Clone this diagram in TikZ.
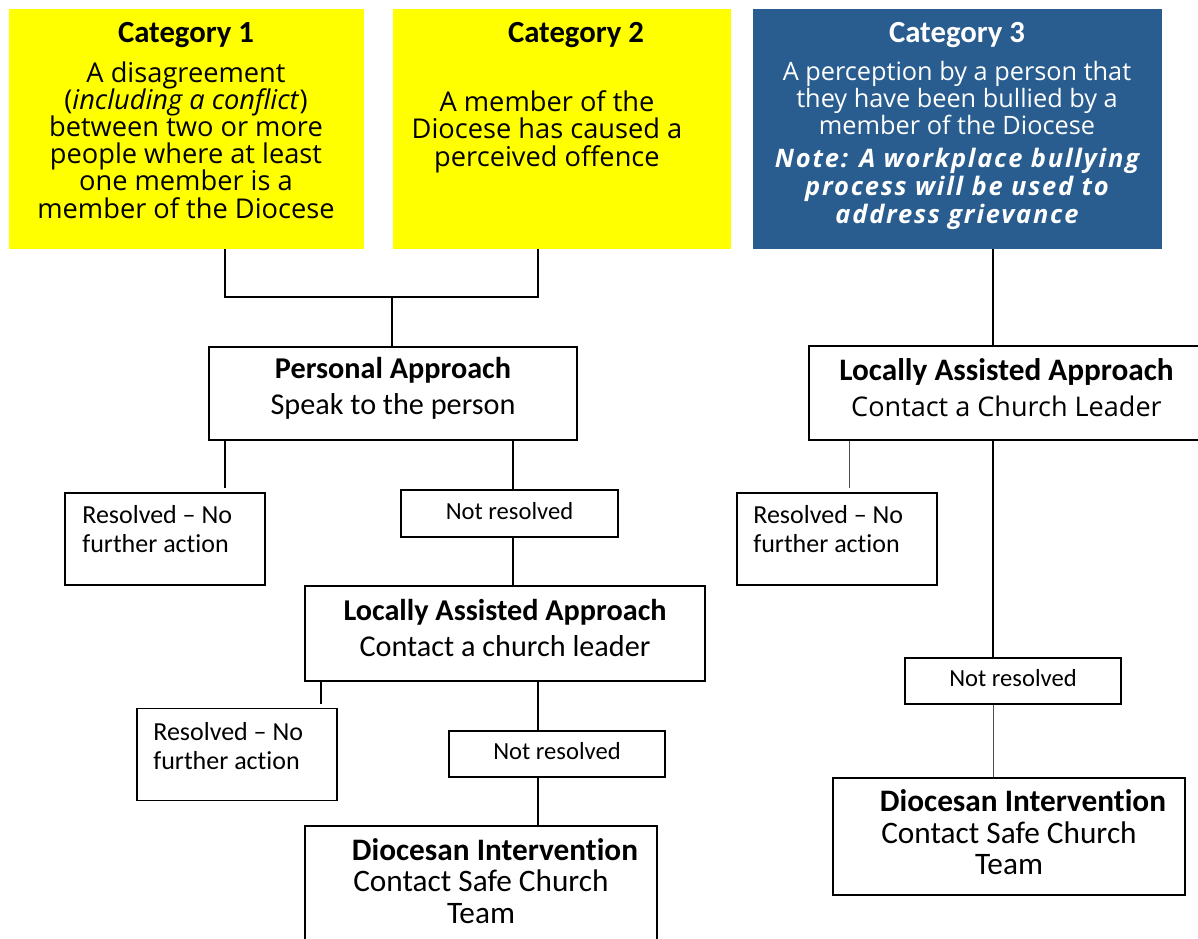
\documentclass[tikz,border=0pt]{standalone}
\usepackage{fontspec}
\setmainfont{Carlito}[Ligatures=NoCommon]
\newfontfamily\widefont{Open Sans}
\newfontfamily\notefont[LetterSpace=7]{Open Sans}
\definecolor{CatYellow}{RGB}{255,255,0}
\definecolor{CatBlue}{RGB}{41,93,143}
\definecolor{LineGray}{RGB}{80,80,80}
\newcommand\catlines{\lineskiplimit=-20pt\relax}

\tikzset{
  catbox/.style={fill=#1, inner sep=0pt, minimum height=4.8cm},
  stepbox/.style={draw=black, line width=0.9pt, fill=white, inner sep=0pt, align=center, font=\fontsize{17.2}{20.4}\selectfont},
  notebox/.style={draw=black, line width=0.9pt, fill=white, inner sep=0pt, minimum width=4.33cm, minimum height=0.93cm, text depth=0.3em, font=\fontsize{14}{16}\selectfont},
  endbox/.style={draw=black, line width=0.9pt, inner sep=0pt, minimum width=4cm, minimum height=1.84cm},
  cathead/.style={inner sep=0pt, anchor=base, font=\fontsize{17.5}{20}\selectfont\bfseries},
  cattext/.style={inner sep=0pt, anchor=base, align=center, font=\widefont\fontsize{15.5}{15.4}\selectfont\catlines},
  endtext/.style={inner sep=0pt, anchor=base west, align=left, font=\fontsize{14.8}{16.4}\selectfont},
  link/.style={draw=black, line width=0.8pt},
  thinlink/.style={draw=LineGray, line width=0.5pt}
}

\begin{document}
\begin{tikzpicture}[x=0.02cm,y=-0.02cm]
\clip (0,0) rectangle (1198,938);
\fill[white] (0,0) rectangle (1198,938);

% the three categories
\node[catbox=CatYellow, minimum width=7.1cm] (cat1) at (186.5,129) {};
\node[catbox=CatYellow, minimum width=6.76cm] (cat2) at (562,129) {};
\node[catbox=CatBlue, minimum width=8.18cm] (cat3) at (957.5,129) {};

\node[cathead] (cat1head) at (186,42) {Category 1};
\node[cattext] (cat1text) at (186,218) {A disagreement\\(\textit{including a conflict})\\between two or more\\people where at least\\one member is a\\member of the Diocese};
\node[cathead] (cat2head) at (576,42) {Category 2};
\node[cattext] (cat2text) at (547,166) {A member of the\\Diocese has caused a\\perceived offence};
\node[cathead, text=white] (cat3head) at (957,42) {Category 3};
\node[cattext, text=white, font=\widefont\fontsize{14.4}{15.3}\selectfont] (cat3text) at (957,134) {A perception by a person that\\they have been bullied by a\\member of the Diocese};
\node[cattext, text=white, font=\notefont\bfseries\itshape\fontsize{14.5}{15.9}\selectfont] (cat3note) at (957,223) {Note: A workplace bullying\\process will be used to\\address grievance};

% left branch
\node[stepbox, minimum width=7.36cm, minimum height=1.86cm, text depth=9pt] (pa) at (393,393.5) {\textbf{Personal Approach}\\Speak to the person};
\node[endbox] (res1) at (165,539) {};
\node[endtext] (res1text) at (82,552) {Resolved – No\\further action};
\node[notebox] (nr1) at (509.5,513.5) {Not resolved};
\node[stepbox, minimum width=8cm, minimum height=1.9cm, text depth=6pt] (laa1) at (505,633.5) {\textbf{Locally Assisted Approach}\\Contact a church leader};
\node[endbox] (res2) at (237,754.5) {};
\node[endtext] (res2text) at (153,769) {Resolved – No\\further action};
\node[notebox] (nr2) at (557,754) {Not resolved};
\node[stepbox, minimum width=7.04cm, minimum height=2.34cm, text depth=4pt, font=\fontsize{17.8}{17.8}\selectfont] (di1) at (481,884.5) {\hspace*{0.56cm}\textbf{Diocesan Intervention}\\Contact Safe Church\\Team};

% right branch
\node[stepbox, minimum width=7.9cm, minimum height=1.88cm, text depth=6pt] (laa2) at (1006.5,393) {{\fontsize{17.8}{20.4}\selectfont\bfseries Locally Assisted Approach}\\{\widefont\fontsize{15.4}{20.4}\selectfont Contact a Church Leader}};
\node[endbox] (res3) at (837,539) {};
\node[endtext] (res3text) at (753,552) {Resolved – No\\further action};
\node[notebox] (nr3) at (1013,681) {Not resolved};
\node[stepbox, minimum width=7.04cm, minimum height=2.34cm, text depth=5pt, font=\fontsize{17.8}{17.8}\selectfont] (di2) at (1009,836.5) {\hspace*{0.56cm}\textbf{Diocesan Intervention}\\Contact Safe Church\\Team};

% connectors
\coordinate (join) at (392,297);
\draw[link] ([xshift=0.77cm]cat1.south) |- (join) -| ([xshift=-0.48cm]cat2.south);
\draw[link] (join) -- (join |- pa.north);
\draw[link, shorten >=0.08cm] ([xshift=-3.36cm]pa.south) -- ([xshift=-3.36cm]pa.south |- res1.north);
\draw[link] ([xshift=2.4cm]pa.south) -- ([xshift=2.4cm]pa.south |- nr1.north);
\draw[link] ([xshift=2.4cm]pa.south |- nr1.south) -- ([xshift=2.4cm]pa.south |- laa1.north);
\draw[link, shorten >=0.08cm] ([xshift=-3.68cm]laa1.south) -- ([xshift=-3.68cm]laa1.south |- res2.north);
\draw[link] ([xshift=0.66cm]laa1.south) -- ([xshift=0.66cm]laa1.south |- nr2.north);
\draw[link] ([xshift=0.66cm]laa1.south |- nr2.south) -- ([xshift=0.66cm]laa1.south |- di1.north);

\draw[link] ([xshift=0.71cm]cat3.south) -- ([xshift=0.71cm]cat3.south |- laa2.north);
\draw[thinlink, shorten >=0.08cm] ([xshift=-3.15cm]laa2.south) -- ([xshift=-3.15cm]laa2.south |- res3.north);
\draw[link] ([xshift=-0.27cm]laa2.south) -- ([xshift=-0.27cm]laa2.south |- nr3.north);
\draw[thinlink] ([xshift=-0.27cm]laa2.south |- nr3.south) -- ([xshift=-0.27cm]laa2.south |- di2.north);

\end{tikzpicture}
\end{document}
